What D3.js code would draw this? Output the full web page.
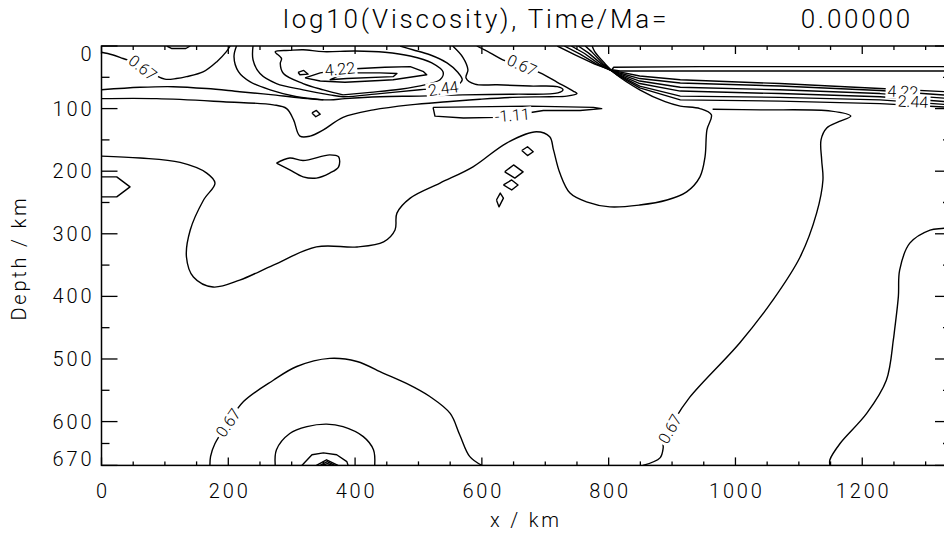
<!DOCTYPE html>
<html><head><meta charset="utf-8">
<script src="https://cdn.jsdelivr.net/npm/d3@7"></script>
<style>
html,body{margin:0;padding:0;background:#fff;}
svg{display:block;}
text{font-family:Roboto,"Liberation Sans",Arial,sans-serif;font-weight:300;fill:#000;}
</style></head><body>
<svg id="chart" width="944" height="533"></svg>
<script>
// Contour lines of log10(viscosity); every point is [x / km, depth / km]
const contourTopLeft = [[0,10],[17,14],[34,20],[53,27],[69,37],[84,46],[100,53],[118,52],[134,49],[161,41],[182,25],[197,9],[203,0]];
const lithBase = [[0,70],[61,66],[113,65],[166,68],[218,73],[271,78],[324,84],[360,86],[384,84],[439,81],[502,80],[570,78],[649,77],[720,75],[728,70],[719,65],[676,64],[624,62],[589,61],[575,51],[578,38],[570,18],[554,0]];
const lithOuter = [[0,84],[87,84],[192,89],[271,94],[292,100],[303,118],[313,144],[329,144],[350,134],[381,114],[429,102],[487,94],[545,89],[597,85],[649,82],[707,81],[734,80],[750,76],[744,72],[719,58],[692,43],[665,32],[633,22],[613,11],[592,0]];
const ringOuter = [[213,0],[209,17],[216,41],[234,57],[266,70],[308,81],[350,86]];
const ring244 = [[239,0],[239,22],[250,44],[276,60],[318,70],[360,78],[381,81],[439,76],[502,70],[539,67],[562,62],[569,54],[562,42],[545,27],[518,14],[491,6],[471,0]];
const ring333 = [[381,78],[350,70],[318,60],[287,44],[282,28],[284,20],[274,9],[297,7],[318,6],[350,9],[400,8],[447,10],[487,16],[521,27],[539,42],[534,54],[510,62],[471,69],[424,74],[381,78]];
const ring422 = [[321,51],[345,43],[376,38],[408,36],[447,34],[487,33],[508,41],[513,46],[460,54],[439,55],[384,58],[345,56],[321,51]];
const ring511 = [[360,54],[387,52],[460,49],[466,44],[439,43],[392,43],[371,49],[360,54]];
const tinyTri = [[310,42],[319,39],[326,45],[313,46],[310,42]];
const tinyDiamond = [[332,107],[339,103],[345,109],[338,113],[332,107]];
const topNotch = [[103,0],[111,4],[133,4],[140,0]];
const blob = [[276,187],[297,179],[318,183],[360,174],[374,177],[374,193],[360,203],[339,211],[318,209],[297,198],[276,187]];
const leftLens = [[0,209],[24,209],[45,225],[24,241],[0,241]];
const mantleLoop = [[0,176],[61,179],[124,186],[166,203],[179,219],[161,246],[140,294],[134,337],[145,369],[176,385],[218,374],[271,350],[339,321],[403,321],[445,313],[463,294],[466,267],[487,243],[534,219],[586,193],[639,155],[686,137],[707,145],[713,166],[723,203],[739,235],[765,249],[802,257],[849,254],[892,246],[923,233],[944,209],[952,177],[955,134],[962,110],[944,100],[913,96],[889,89],[849,70],[810,44],[795,29],[778,9],[774,0]];
const loop111 = [[523,98],[526,112],[571,115],[623,114],[660,109],[697,103],[755,103],[789,100],[776,98],[676,96],[523,98]];
const slab0 = [[719,0],[747,14],[778,29],[805,39],[849,48],[913,54],[1070,60],[1228,68],[1340,73.5]];
const slab1 = [[730,0],[755,13],[781,29],[806,40],[849,52],[913,59],[1070,64],[1228,71],[1340,79]];
const slab2 = [[741,0],[762,12],[785,29],[807,41],[849,56],[913,66],[1070,70],[1228,76],[1340,84]];
const slab3 = [[752,0],[768,11],[789,29],[808,42],[849,60],[913,72],[1070,76],[1228,81],[1340,89.5]];
const slab4 = [[763,0],[773,9],[792,29],[809,43],[849,64],[913,80],[1070,82],[1228,86],[1340,94]];
const bandLow = [[811,45],[849,67],[913,86],[1070,88],[1228,92],[1340,98]];
const plateTop = [[805,38],[808,34],[944,33],[1340,33]];
const plateTop2 = [[805,38],[818,40],[944,40],[1340,40]];
const rightArc = [[964,101],[1040,102],[1151,104],[1182,112],[1163,121],[1144,131],[1135,150],[1136,182],[1138,214],[1128,267],[1102,337],[1059,406],[1007,474],[928,561],[904,597],[886,634],[886,642],[881,658],[854,670]];
const farRight = [[1340,287],[1329,291],[1307,294],[1275,315],[1259,358],[1257,400],[1251,454],[1249,470],[1238,534],[1207,587],[1165,635],[1149,661],[1149,670]];
const dome1 = [[171,670],[172,656],[179,635],[200,602],[224,568],[271,534],[308,512],[360,499],[403,504],[445,523],[481,539],[518,560],[550,587],[565,621],[581,656],[600,670]];
const dome2 = [[274,670],[276,645],[297,619],[324,608],[355,604],[381,608],[413,624],[429,645],[431,670]];
const dome3 = [[316,670],[332,653],[350,650],[371,653],[387,664],[389,670]];
const dome4 = [[339,670],[355,661],[373,670]];
const dome5 = [[345,670],[356,664],[368,670]];
const dome6 = [[349,670],[356,667],[364,670]];
const diamond1 = [[663,167],[672,161],[681,169],[672,175],[663,167]];
const diamond2 = [[636,201],[650,190],[665,201],[652,211],[636,201]];
const diamond3 = [[634,222],[647,214],[657,222],[647,230],[634,222]];
const diamond4 = [[623,246],[629,235],[634,243],[627,257],[623,246]];

// contour labels: [text, x / km, depth / km, angle / deg]
const contourLabels = [
  ["0.67", 65, 35, 38],
  ["4.22", 376, 37, -5],
  ["2.44", 539, 68, -8],
  ["0.67", 663, 31, 25],
  ["-1.11", 648, 111, -5],
  ["4.22", 1264, 73, 3],
  ["2.44", 1280, 89, 3],
  ["0.67", 200, 602, -56],
  ["0.67", 897, 612, -60]
];

const xTickValues = [0, 200, 400, 600, 800, 1000, 1200];
const xMinorValues = d3.range(50, 1340, 50).filter(v => v % 200 !== 0);
const yTickValues = [0, 100, 200, 300, 400, 500, 600, 670];
const yMinorValues = [50, 150, 250, 350, 450, 550, 635];
const titleText = "log10(Viscosity), Time/Ma=";
const timeText = "0.00000";

const svg = d3.select("#chart");
const x = d3.scaleLinear().domain([0, 1340]).range([101.5, 951]);
const y = d3.scaleLinear().domain([0, 670]).range([46, 465.4]);

svg.append("defs").append("clipPath").attr("id", "plotClip")
  .append("rect").attr("x", x(0)).attr("y", y(0))
  .attr("width", x(1340) - x(0)).attr("height", y(670) - y(0));

const line = d3.line().x(d => x(d[0])).y(d => y(d[1]));
const smooth = d3.line().x(d => x(d[0])).y(d => y(d[1])).curve(d3.curveCatmullRom.alpha(0.5));

const smoothLines = [contourTopLeft, lithBase, lithOuter, ringOuter, ring244, ring333, blob, mantleLoop, rightArc, farRight, dome1, dome2];
const straightLines = [ring422, ring511, tinyTri, tinyDiamond, topNotch, leftLens, loop111, slab0, slab1, slab2, slab3, slab4, bandLow, plateTop, plateTop2, dome3, dome4, dome5, dome6, diamond1, diamond2, diamond3, diamond4];

const g = svg.append("g").attr("clip-path", "url(#plotClip)");
g.selectAll("path.s").data(smoothLines).join("path").attr("class", "s")
  .attr("d", smooth).attr("fill", "none").attr("stroke", "#000").attr("stroke-width", 1.4)
  .attr("stroke-linejoin", "round");
g.selectAll("path.l").data(straightLines).join("path").attr("class", "l")
  .attr("d", line).attr("fill", "none").attr("stroke", "#000").attr("stroke-width", 1.4)
  .attr("stroke-linejoin", "round");

// labels sit in a gap cut out of their contour line
const lab = g.selectAll("g.lab").data(contourLabels).join("g").attr("class", "lab")
  .attr("transform", d => `translate(${x(d[1])},${y(d[2])}) rotate(${d[3]})`);
lab.append("rect");
lab.append("text").text(d => d[0]).attr("text-anchor", "middle")
  .attr("dominant-baseline", "central").attr("font-size", 16).attr("font-weight", 400);
lab.each(function() {
  const t = d3.select(this).select("text").node().getBBox();
  d3.select(this).select("rect").attr("x", t.x - 2).attr("y", t.y + 2)
    .attr("width", t.width + 4).attr("height", t.height - 4).attr("fill", "#fff");
});

// frame
svg.append("rect").attr("x", x(0)).attr("y", y(0))
  .attr("width", x(1340) - x(0)).attr("height", y(670) - y(0))
  .attr("fill", "none").attr("stroke", "#000").attr("stroke-width", 1.5);

// ticks on all four sides, pointing inward
const ticks = svg.append("g").attr("stroke", "#000").attr("stroke-width", 1.3);
const xt = xTickValues.map(v => [v, 8]).concat(xMinorValues.map(v => [v, 4]));
xt.forEach(([v, len]) => {
  ticks.append("line").attr("x1", x(v)).attr("x2", x(v)).attr("y1", y(670)).attr("y2", y(670) - len);
  ticks.append("line").attr("x1", x(v)).attr("x2", x(v)).attr("y1", y(0)).attr("y2", y(0) + len);
});
const yt = yTickValues.map(v => [v, 16]).concat(yMinorValues.map(v => [v, 8]));
yt.forEach(([v, len]) => {
  ticks.append("line").attr("y1", y(v)).attr("y2", y(v)).attr("x1", x(0)).attr("x2", x(0) + len);
  ticks.append("line").attr("y1", y(v)).attr("y2", y(v)).attr("x1", x(1340)).attr("x2", x(1340) - len);
});

// tick labels
const tickFont = 20, tickSpacing = 2.8;
svg.append("g").selectAll("text").data(xTickValues).join("text")
  .attr("x", d => x(d) + tickSpacing / 2).attr("y", 498).attr("text-anchor", "middle")
  .attr("font-size", tickFont).attr("letter-spacing", tickSpacing).text(d => d);
svg.append("g").selectAll("text").data(yTickValues).join("text")
  .attr("x", 91.5 + tickSpacing).attr("y", d => Math.min(Math.max(y(d), 53.5), 459))
  .attr("text-anchor", "end").attr("dominant-baseline", "central")
  .attr("font-size", tickFont).attr("letter-spacing", tickSpacing).text(d => d);

// axis titles
svg.append("text").attr("x", 526).attr("y", 527).attr("text-anchor", "middle")
  .attr("font-size", tickFont).attr("letter-spacing", tickSpacing).text("x / km");
svg.append("text").attr("transform", "translate(26,258) rotate(-90)")
  .attr("text-anchor", "middle").attr("font-size", tickFont).attr("letter-spacing", tickSpacing)
  .text("Depth / km");

// title
svg.append("text").attr("x", 283).attr("y", 28).attr("font-size", 26)
  .attr("letter-spacing", 2.8).text(titleText);
svg.append("text").attr("x", 913).attr("y", 28).attr("text-anchor", "end")
  .attr("font-size", 26).attr("letter-spacing", 2.8).text(timeText);
</script>
</body></html>
